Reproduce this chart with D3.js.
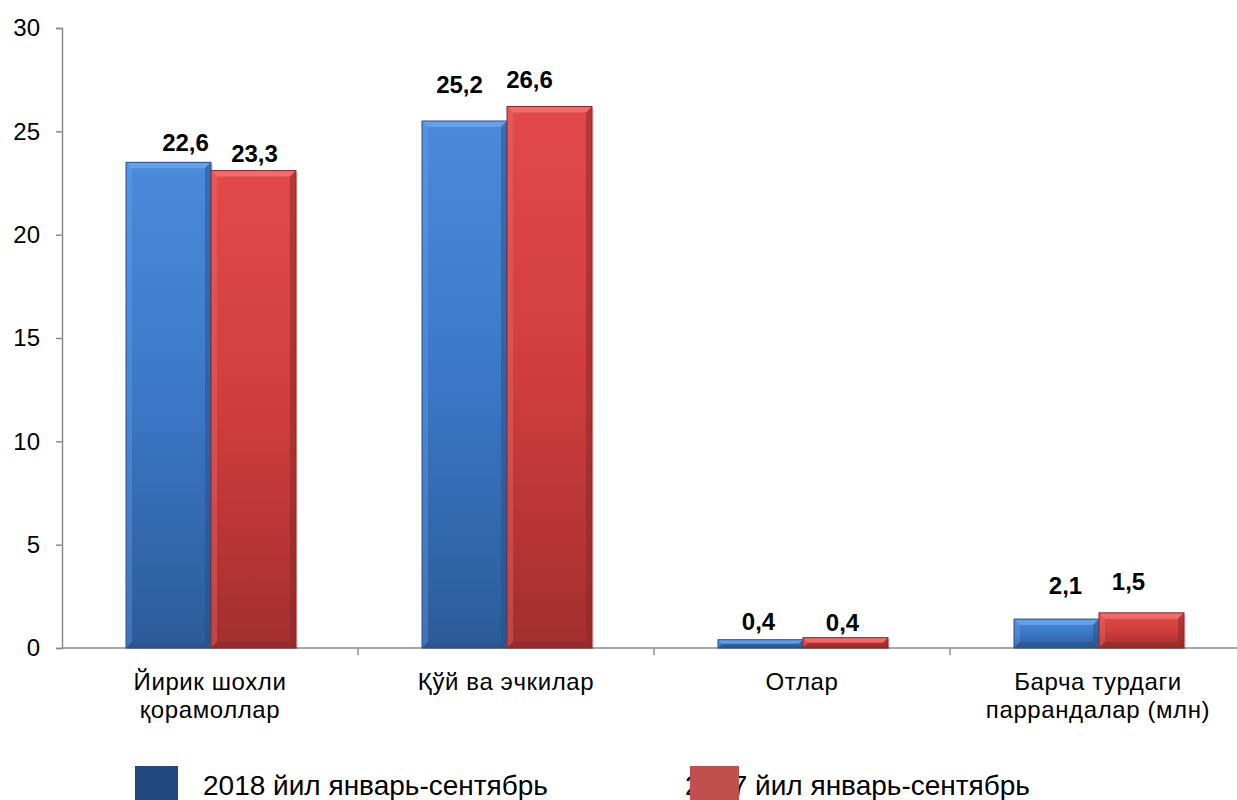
<!DOCTYPE html>
<html>
<head>
<meta charset="utf-8">
<script src="https://cdn.jsdelivr.net/npm/d3@7"></script>
<style>
  body { margin: 0; background: #fff; }
  svg { display: block; font-family: "Liberation Sans", Arial, sans-serif; }
</style>
</head>
<body>
<svg id="chart" width="1237" height="800"></svg>
<script>
// chart data
const categories = [["Йирик шохли", "қорамоллар"], ["Қўй ва эчкилар"], ["Отлар"], ["Барча турдаги", "паррандалар (млн)"]];
const seriesNames = ["2018 йил январь-сентябрь", "2017 йил январь-сентябрь"];
const values2018 = [23.5, 25.5, 0.4, 1.4];
const values2017 = [23.1, 26.2, 0.5, 1.7];
const labels2018 = ["22,6", "25,2", "0,4", "2,1"];
const labels2017 = ["23,3", "26,6", "0,4", "1,5"];
const yTicks = [0, 5, 10, 15, 20, 25, 30];

// label nudges (px) relative to bar centre / top, as placed in the original
const labelNudge = [
    [[17, -11], [1, -9]],
    [[-5, -28], [-20, -19]],
    [[-2, -10], [-3, -7]],
    [[9, -25], [-13, -23]]
];

const svg = d3.select("#chart");

const x0 = d3.scaleBand()
    .domain(d3.range(categories.length))
    .range([62, 62 + 296 * 4]);

const x1 = d3.scaleBand()
    .domain([0, 1])
    .range([64, 234]);

const y = d3.scaleLinear()
    .domain([0, 30])
    .range([648, 28]);

// gradients
const defs = svg.append("defs");
const palette = [
    { top: "#4b8bdb", mid: "#3b77c6", bot: "#2c5b98", edge: "#24508a", light: "#6aa3ea" },
    { top: "#e24a4a", mid: "#d13d3d", bot: "#a32f2f", edge: "#8c2626", light: "#f07373" }
];
palette.forEach((p, i) => {
    const g = defs.append("linearGradient")
        .attr("id", "grad" + i)
        .attr("x1", 0).attr("y1", 0).attr("x2", 0).attr("y2", 1);
    g.append("stop").attr("offset", "0%").attr("stop-color", p.top);
    g.append("stop").attr("offset", "50%").attr("stop-color", p.mid);
    g.append("stop").attr("offset", "100%").attr("stop-color", p.bot);
});

// y axis
const yAxis = svg.append("g")
    .attr("transform", "translate(62,0)")
    .call(d3.axisLeft(y).tickValues(yTicks).tickSize(6).tickPadding(16));
yAxis.select(".domain").attr("stroke", "#8c8c8c").attr("stroke-width", 1.5);
yAxis.selectAll(".tick line").attr("stroke", "#8c8c8c").attr("stroke-width", 1.5);
yAxis.selectAll(".tick text")
    .attr("font-size", 24)
    .attr("fill", "#000")
    .attr("font-family", "'Liberation Sans', Arial, sans-serif");

// x axis
const xAxis = svg.append("g")
    .attr("transform", "translate(0,648)");
xAxis.append("line")
    .attr("x1", 62).attr("x2", 1237)
    .attr("stroke", "#8c8c8c").attr("stroke-width", 1.5);
xAxis.selectAll("line.tk")
    .data(d3.range(categories.length))
    .enter()
    .append("line")
        .attr("class", "tk")
        .attr("x1", d => x0(d) + x0.bandwidth())
        .attr("x2", d => x0(d) + x0.bandwidth())
        .attr("y1", 0).attr("y2", 7)
        .attr("stroke", "#8c8c8c").attr("stroke-width", 1.5);

// category labels
const catText = svg.append("g")
    .selectAll("text")
    .data(categories)
    .enter()
    .append("text")
        .attr("x", (d, i) => x0(i) + x0.bandwidth() / 2)
        .attr("y", 690)
        .attr("text-anchor", "middle")
        .attr("font-size", 24)
        .attr("letter-spacing", 0.6)
        .attr("fill", "#000");
catText.selectAll("tspan")
    .data(d => d)
    .enter()
    .append("tspan")
        .attr("x", function() { return this.parentNode.getAttribute("x"); })
        .attr("dy", (d, i) => i === 0 ? 0 : 28)
        .text(d => d);

// bars
const barData = [];
categories.forEach((c, i) => {
    [values2018[i], values2017[i]].forEach((v, s) => {
        barData.push({
            cat: i, s: s, v: v,
            label: s === 0 ? labels2018[i] : labels2017[i],
            nudge: labelNudge[i][s]
        });
    });
});

const bars = svg.append("g")
    .selectAll("g")
    .data(barData)
    .enter()
    .append("g");

bars.each(function(d) {
    const g = d3.select(this);
    const p = palette[d.s];
    const bx = x0(d.cat) + x1(d.s);
    const bw = x1.bandwidth();
    const by = y(d.v);
    const bh = y(0) - by;
    const b = Math.min(6, bh / 2);

    g.append("rect")
        .attr("x", bx + 2).attr("y", by + 2)
        .attr("width", bw).attr("height", bh - 1)
        .attr("fill", "#000").attr("opacity", 0.12);
    g.append("rect")
        .attr("x", bx).attr("y", by)
        .attr("width", bw).attr("height", bh)
        .attr("fill", "url(#grad" + d.s + ")");
    // top bevel
    g.append("polygon")
        .attr("points", [[bx, by], [bx + bw, by], [bx + bw - b, by + b], [bx + b, by + b]].join(" "))
        .attr("fill", p.light).attr("opacity", 0.85);
    // left bevel
    g.append("polygon")
        .attr("points", [[bx, by], [bx + b, by + b], [bx + b, by + bh - b], [bx, by + bh]].join(" "))
        .attr("fill", p.light).attr("opacity", 0.35);
    // right bevel
    g.append("polygon")
        .attr("points", [[bx + bw, by], [bx + bw - b, by + b], [bx + bw - b, by + bh - b], [bx + bw, by + bh]].join(" "))
        .attr("fill", p.edge).attr("opacity", 0.5);
    // bottom bevel
    g.append("polygon")
        .attr("points", [[bx, by + bh], [bx + b, by + bh - b], [bx + bw - b, by + bh - b], [bx + bw, by + bh]].join(" "))
        .attr("fill", p.edge).attr("opacity", 0.5);
    g.append("rect")
        .attr("x", bx).attr("y", by)
        .attr("width", bw).attr("height", bh)
        .attr("fill", "none")
        .attr("stroke", p.edge).attr("stroke-width", 1);

    g.append("text")
        .attr("x", bx + bw / 2 + d.nudge[0])
        .attr("y", by + d.nudge[1])
        .attr("text-anchor", "middle")
        .attr("font-size", 24)
        .attr("font-weight", "bold")
        .attr("fill", "#000")
        .text(d.label);
});

// legend (second swatch sits over the start of its own text, as in the original)
const legendColors = ["#1f497d", "#c0504d"];
const legendText = [203, 685];
const legendSwatch = [135, 690];
const legend = svg.append("g");
seriesNames.forEach((name, i) => {
    legend.append("text")
        .attr("x", legendText[i])
        .attr("y", 795)
        .attr("font-size", 28)
        .attr("fill", "#000")
        .text(name);
    legend.append("rect")
        .attr("x", legendSwatch[i])
        .attr("y", 766)
        .attr("width", i === 0 ? 43 : 49)
        .attr("height", 43)
        .attr("fill", legendColors[i]);
});
</script>
</body>
</html>
